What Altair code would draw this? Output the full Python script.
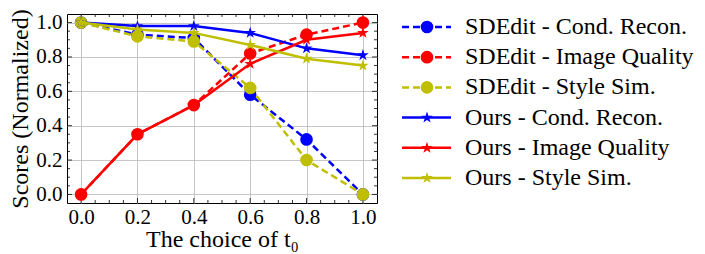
import altair as alt
import pandas as pd

t0 = [0.0, 0.2, 0.4, 0.6, 0.8, 1.0]
sdedit_cond = [1.0, 0.93, 0.91, 0.58, 0.32, 0.0]
sdedit_iq = [0.0, 0.35, 0.52, 0.82, 0.93, 1.0]
sdedit_style = [1.0, 0.92, 0.89, 0.62, 0.20, 0.0]
ours_cond = [1.0, 0.98, 0.98, 0.94, 0.85, 0.81]
ours_iq = [0.0, 0.35, 0.52, 0.76, 0.90, 0.94]
ours_style = [1.0, 0.96, 0.94, 0.87, 0.79, 0.75]

names = ["SDEdit - Cond. Recon.", "SDEdit - Image Quality", "SDEdit - Style Sim.",
         "Ours - Cond. Recon.", "Ours - Image Quality", "Ours - Style Sim."]
series = [sdedit_cond, sdedit_iq, sdedit_style, ours_cond, ours_iq, ours_style]
colors = ["#0000ff", "#ff0000", "#bfbf00", "#0000ff", "#ff0000", "#bfbf00"]
dashed = [True, True, True, False, False, False]
STAR = ("M0,-1L0.2245,-0.309L0.951,-0.309L0.363,0.118L0.588,0.809L0,0.382"
        "L-0.588,0.809L-0.363,0.118L-0.951,-0.309L-0.2245,-0.309Z")
shapes = ["circle", "circle", "circle", STAR, STAR, STAR]

y_ticks = [0.0, 0.2, 0.4, 0.6, 0.8, 1.0]
x_minor = [0.05, 0.1, 0.15, 0.25, 0.3, 0.35, 0.45, 0.5, 0.55, 0.65, 0.7, 0.75, 0.85, 0.9, 0.95]
y_minor = [0.05, 0.1, 0.15, 0.25, 0.3, 0.35, 0.45, 0.5, 0.55, 0.65, 0.7, 0.75, 0.85, 0.9, 0.95]

FONT = "Liberation Serif, DejaVu Serif, serif"
W, H = 310, 189

xs = alt.Scale(domain=[-0.05, 1.05], nice=False, zero=False)
ys = alt.Scale(domain=[-0.05, 1.05], nice=False, zero=False)
xax = alt.Axis(values=t0, format=".1f", title="The choice of t₀")
yax = alt.Axis(values=y_ticks, format=".1f", title="Scores (Normalized)")


def X(f):
    return alt.X(f, type="quantitative", scale=xs, axis=xax)


def Y(f):
    return alt.Y(f, type="quantitative", scale=ys, axis=yax)


rows = []
for name, vals in zip(names, series):
    for t, v in zip(t0, vals):
        rows.append({"series": name, "t": t, "v": v})
df = pd.DataFrame(rows)

layers = []
# inward tick marks on all four sides
for vals, L in [(t0, 5), (x_minor, 3)]:
    d = pd.DataFrame({"t": vals})
    layers.append(alt.Chart(d).mark_rule(color="black", strokeWidth=0.8).encode(
        x=X("t"), y=alt.value(H), y2=alt.value(H - L)))
    layers.append(alt.Chart(d).mark_rule(color="black", strokeWidth=0.8).encode(
        x=X("t"), y=alt.value(0), y2=alt.value(L)))
for vals, L in [(y_ticks, 5), (y_minor, 3)]:
    d = pd.DataFrame({"v": vals})
    layers.append(alt.Chart(d).mark_rule(color="black", strokeWidth=0.8).encode(
        y=Y("v"), x=alt.value(0), x2=alt.value(L)))
    layers.append(alt.Chart(d).mark_rule(color="black", strokeWidth=0.8).encode(
        y=Y("v"), x=alt.value(W), x2=alt.value(W - L)))

for name, c, dsh, shp in zip(names, colors, dashed, shapes):
    base = alt.Chart(df).transform_filter(alt.datum.series == name)
    if dsh:
        ln = base.mark_line(color=c, strokeWidth=2.5, strokeDash=[7, 4])
    else:
        ln = base.mark_line(color=c, strokeWidth=2.5)
    layers.append(ln.encode(x=X("t"), y=Y("v")))
    size = 160 if shp == "circle" else 150
    layers.append(base.mark_point(shape=shp, filled=True, size=size, color=c, opacity=1).encode(
        x=X("t"), y=Y("v")))

main = alt.layer(*layers).properties(width=W, height=H)

# legend built from the series names
ly = alt.Scale(type="point", domain=names, range=[13, 164], padding=0)
leg_df = pd.DataFrame({"name": names})
leg_layers = []
for name, c, dsh, shp in zip(names, colors, dashed, shapes):
    base = alt.Chart(leg_df).transform_filter(alt.datum.name == name)
    if dsh:
        r = base.mark_rule(color=c, strokeWidth=2.5, strokeDash=[7, 4])
    else:
        r = base.mark_rule(color=c, strokeWidth=2.5)
    leg_layers.append(r.encode(y=alt.Y("name:N", scale=ly, axis=None), x=alt.value(0), x2=alt.value(49)))
    size = 160 if shp == "circle" else 150
    leg_layers.append(base.mark_point(shape=shp, filled=True, size=size, color=c, opacity=1).encode(
        y=alt.Y("name:N", scale=ly, axis=None), x=alt.value(25)))
leg_layers.append(alt.Chart(leg_df).mark_text(align="left", baseline="middle", font=FONT, fontSize=24,
                                              color="black").encode(
    y=alt.Y("name:N", scale=ly, axis=None), x=alt.value(63), text="name:N"))
legend = alt.layer(*leg_layers).properties(width=292, height=H, view=alt.ViewConfig(stroke="transparent"))

chart = alt.hconcat(main, legend, spacing=22).properties(padding=0).configure(
    font=FONT
).configure_view(
    stroke="black", strokeWidth=1
).configure_axis(
    labelFont=FONT, titleFont=FONT, labelFontSize=21, titleFontSize=24,
    labelColor="black", titleColor="black", titleFontWeight="normal",
    domain=False, ticks=False, gridColor="#b8b8b8", gridWidth=0.8,
).configure_axisX(titlePadding=0, labelPadding=3).configure_axisY(titlePadding=3, labelPadding=5)

chart.save("out.html", embed_options={"renderer": "svg", "actions": False})
